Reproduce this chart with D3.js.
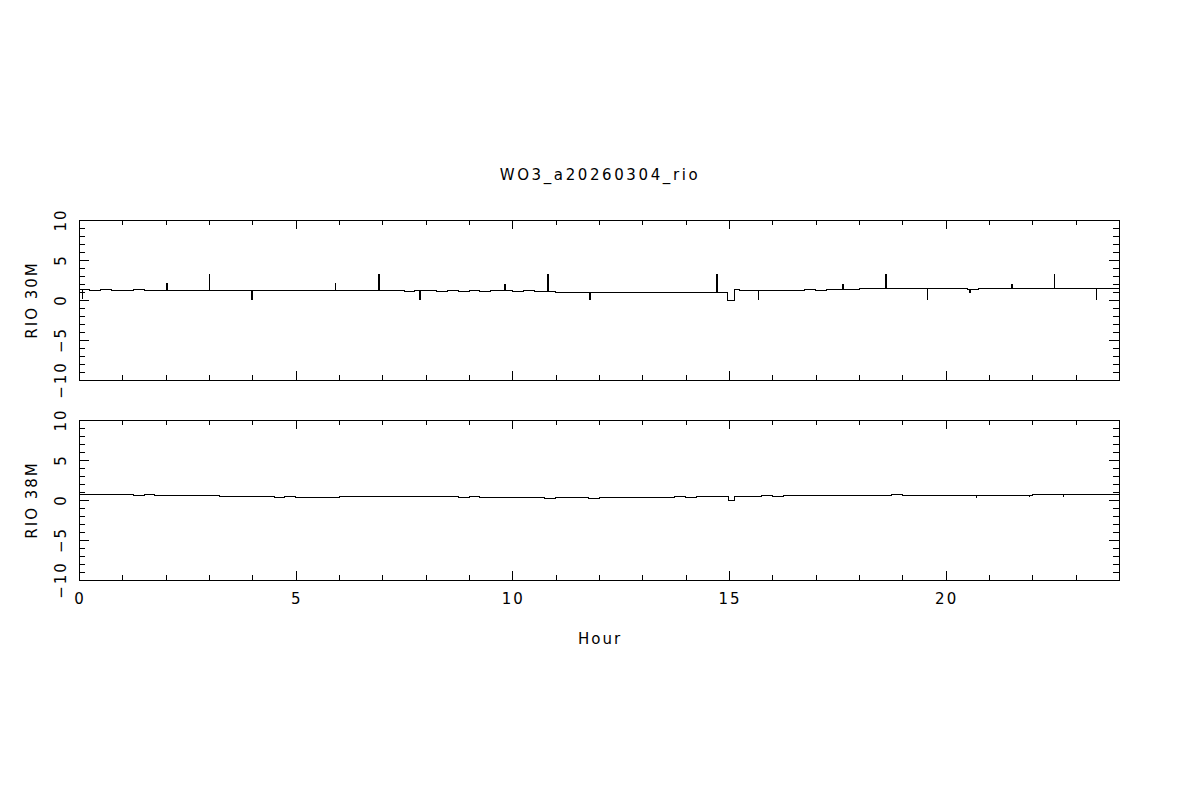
<!DOCTYPE html>
<html>
<head>
<meta charset="utf-8">
<script src="https://cdn.jsdelivr.net/npm/d3@7"></script>
<style>
body { margin: 0; background: #fff; }
text { font-family: "DejaVu Sans", sans-serif; font-size: 15px; fill: #000; letter-spacing: 2px; }
text.title { letter-spacing: 2.6px; }
</style>
</head>
<body>
<div id="chart"></div>
<script>
// chart texts and ticks
var title = "WO3_a20260304_rio";
var xLabel = "Hour";
var panelLabels = ["RIO 30M", "RIO 38M"];
var xMajor = [0, 5, 10, 15, 20];
var xMinor = [1, 2, 3, 4, 6, 7, 8, 9, 11, 12, 13, 14, 16, 17, 18, 19, 21, 22, 23];
var yMajor = [-10, -5, 0, 5, 10];
var yMinor = [-9, -8, -7, -6, -4, -3, -2, -1, 1, 2, 3, 4, 6, 7, 8, 9];

// samples every 15 minutes, 0h .. 24h
var sampleStep = 0.25;

var rio30Base = [
    1.3, 1.25, 1.3, 1.2, 1.25, 1.3, 1.2, 1.25, 1.25,
    1.2, 1.2, 1.25, 1.2, 1.15, 1.2, 1.2, 1.15,
    1.2, 1.15, 1.2, 1.15, 1.2, 1.15, 1.15, 1.2,
    1.15, 1.15, 1.2, 1.15, 1.15, 1.1, 1.15, 1.15,
    1.1, 1.15, 1.1, 1.15, 1.1, 1.15, 1.15, 1.1,
    1.15, 1.1, 1.1, 1.0, 1.0, 0.95, 0.95, 0.95,
    0.95, 0.95, 0.95, 0.95, 0.95, 1.0, 0.95, 1.0,
    1.0, 1.0, 1.0, 1.3, 1.25, 1.2, 1.2, 1.25,
    1.25, 1.25, 1.3, 1.25, 1.3, 1.3, 1.35, 1.4,
    1.4, 1.4, 1.45, 1.4, 1.4, 1.4, 1.4, 1.4,
    1.4, 1.35, 1.4, 1.4, 1.4, 1.4, 1.4, 1.4,
    1.4, 1.4, 1.4, 1.4, 1.4, 1.4, 1.4, 1.4
];
// [hour, peak value, duration in hours]
var rio30Spikes = [
    [0.08, 0.1, 0.02], [2.02, 2.1, 0.045], [3.0, 3.3, 0.02], [4.0, 0.0, 0.045],
    [5.93, 2.15, 0.02], [6.92, 3.25, 0.045], [7.88, 0.0, 0.045], [9.82, 2.0, 0.045],
    [10.82, 3.3, 0.045], [11.79, 0.0, 0.045], [14.72, 3.3, 0.045], [15.68, 0.0, 0.02],
    [17.62, 2.0, 0.045], [18.62, 3.3, 0.045], [19.58, 0.0, 0.02], [20.56, 0.9, 0.045],
    [21.52, 2.0, 0.045], [22.51, 3.3, 0.02], [23.47, 0.0, 0.02]
];
// [start hour, end hour, value]
var rio30Dip = [14.96, 15.13, 0.0];

var rio38Base = [
    0.7, 0.65, 0.7, 0.65, 0.65, 0.6, 0.65, 0.6, 0.6,
    0.6, 0.55, 0.6, 0.55, 0.5, 0.45, 0.4, 0.4,
    0.4, 0.35, 0.4, 0.35, 0.35, 0.3, 0.35, 0.45,
    0.5, 0.5, 0.5, 0.45, 0.5, 0.45, 0.45, 0.4,
    0.4, 0.4, 0.35, 0.4, 0.35, 0.35, 0.3, 0.35,
    0.3, 0.3, 0.25, 0.3, 0.3, 0.3, 0.25, 0.3,
    0.3, 0.3, 0.35, 0.3, 0.35, 0.35, 0.4, 0.35,
    0.4, 0.4, 0.4, 0.5, 0.5, 0.5, 0.55, 0.5,
    0.55, 0.55, 0.55, 0.6, 0.55, 0.6, 0.6, 0.6,
    0.6, 0.6, 0.65, 0.6, 0.6, 0.55, 0.6, 0.55,
    0.55, 0.55, 0.55, 0.6, 0.55, 0.6, 0.6, 0.65,
    0.65, 0.65, 0.7, 0.7, 0.7, 0.75, 0.75, 0.75
];
var rio38Spikes = [
    [10.35, 0.2, 0.02], [20.72, 0.3, 0.02], [21.93, 0.35, 0.02], [22.72, 0.4, 0.02]
];
var rio38Dip = [14.98, 15.13, 0.0];

// layout
var full_width = 1200, full_height = 800;
var margin = {left: 79, right: 81};
var plot_width = full_width - margin.left - margin.right;
var panel_height = 160;
var panel_tops = [220, 420];

var svg = d3.select("#chart")
    .append("svg")
    .attr("width", full_width)
    .attr("height", full_height);

var x = d3.scaleLinear()
    .domain([0, 24])
    .range([margin.left, margin.left + plot_width]);

// title
svg.append("text")
    .attr("class", "title")
    .attr("x", full_width / 2)
    .attr("y", 180)
    .attr("text-anchor", "middle")
    .text(title);

function buildSeries(base, dip) {
    var pts = [];
    base.forEach(function(v, i) {
        var h = i * sampleStep;
        if (h < dip[0] || h > dip[1]) pts.push([h, v]);
    });
    pts.push([dip[0], dip[2]]);
    pts.push([dip[1], base[Math.floor(dip[1] / sampleStep)]]);
    pts.sort(function(a, b) { return a[0] - b[0]; });
    return pts;
}

function drawPanel(top, base, spikes, dip, label, showXLabels) {
    var y = d3.scaleLinear()
        .domain([-10, 10])
        .range([top + panel_height, top]);

    var g = svg.append("g");

    // ticks on all four sides, pointing inward
    var addAxis = function(axis, transform, size, values) {
        var a = g.append("g")
            .attr("transform", transform)
            .call(axis.tickValues(values).tickSize(size).tickSizeOuter(0).tickFormat(""));
        a.select(".domain").remove();
        a.selectAll("line").attr("stroke", "#000").attr("shape-rendering", "crispEdges");
        return a;
    };
    addAxis(d3.axisBottom(x), "translate(0," + (top + panel_height) + ")", -9, xMajor);
    addAxis(d3.axisBottom(x), "translate(0," + (top + panel_height) + ")", -5, xMinor);
    addAxis(d3.axisTop(x), "translate(0," + top + ")", -9, xMajor);
    addAxis(d3.axisTop(x), "translate(0," + top + ")", -5, xMinor);
    addAxis(d3.axisLeft(y), "translate(" + x(0) + ",0)", -10, yMajor);
    addAxis(d3.axisLeft(y), "translate(" + x(0) + ",0)", -6, yMinor);
    addAxis(d3.axisRight(y), "translate(" + x(24) + ",0)", -10, yMajor);
    addAxis(d3.axisRight(y), "translate(" + x(24) + ",0)", -6, yMinor);

    // frame
    g.append("rect")
        .attr("x", x(0))
        .attr("y", top)
        .attr("width", x(24) - x(0))
        .attr("height", panel_height)
        .attr("fill", "none")
        .attr("stroke", "#000")
        .attr("shape-rendering", "crispEdges");

    // rotated y tick labels
    g.selectAll(".ylab")
        .data(yMajor)
        .enter()
        .append("text")
        .attr("transform", function(d) { return "translate(" + (x(0) - 13) + "," + y(d) + ") rotate(-90)"; })
        .attr("text-anchor", "middle")
        .text(function(d) { return d3.format("")(d); });

    // y axis label
    g.append("text")
        .attr("transform", "translate(37," + (top + panel_height / 2) + ") rotate(-90)")
        .attr("text-anchor", "middle")
        .text(label);

    // x tick labels
    if (showXLabels) {
        g.selectAll(".xlab")
            .data(xMajor)
            .enter()
            .append("text")
            .attr("x", function(d) { return x(d) + 1; })
            .attr("y", top + panel_height + 24)
            .attr("text-anchor", "middle")
            .text(function(d) { return d; });
    }

    // the series
    var line = d3.line()
        .x(function(d) { return x(d[0]); })
        .y(function(d) { return y(d[1]); })
        .curve(d3.curveStepAfter);

    g.append("path")
        .datum(buildSeries(base, dip))
        .attr("d", line)
        .attr("fill", "none")
        .attr("stroke", "#000")
        .attr("stroke-width", 1)
        .attr("shape-rendering", "crispEdges");

    // spikes
    g.selectAll(".spike")
        .data(spikes)
        .enter()
        .append("line")
        .attr("x1", function(d) { return x(d[0]); })
        .attr("x2", function(d) { return x(d[0]); })
        .attr("y1", function(d) { return y(base[Math.floor(d[0] / sampleStep)]); })
        .attr("y2", function(d) { return y(d[1]); })
        .attr("stroke", "#000")
        .attr("stroke-width", function(d) { return Math.max(1, Math.round(x(d[2]) - x(0))); })
        .attr("shape-rendering", "crispEdges");
}

drawPanel(panel_tops[0], rio30Base, rio30Spikes, rio30Dip, panelLabels[0], false);
drawPanel(panel_tops[1], rio38Base, rio38Spikes, rio38Dip, panelLabels[1], true);

// x axis label
svg.append("text")
    .attr("x", full_width / 2)
    .attr("y", 644)
    .attr("text-anchor", "middle")
    .text(xLabel);
</script>
</body>
</html>
